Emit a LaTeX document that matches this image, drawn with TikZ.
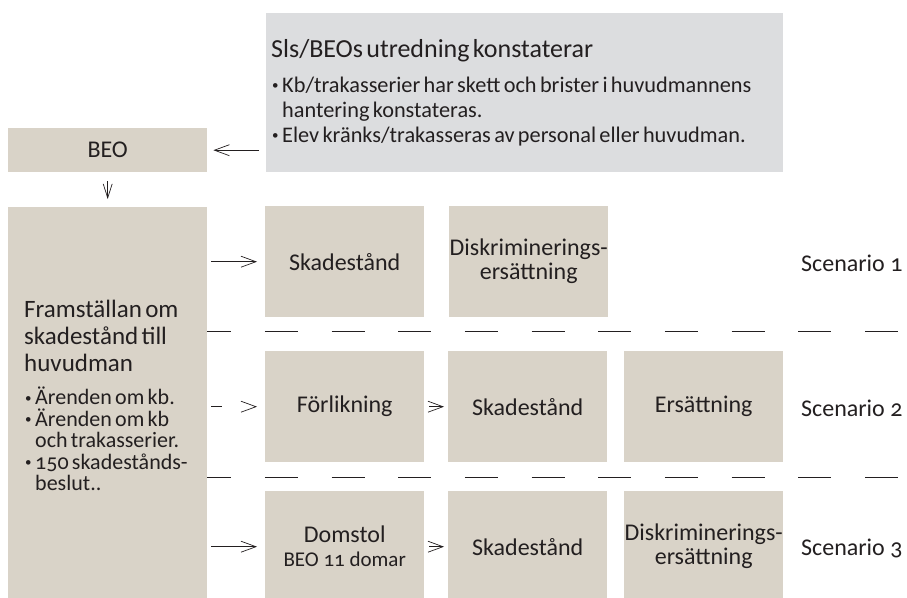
\documentclass[tikz,border=0pt]{standalone}
\usepackage{fontspec}
\setmainfont{Carlito}[Numbers=OldStyle]
\usetikzlibrary{arrows.meta}
\definecolor{beige}{RGB}{217,211,200}
\definecolor{ljusgra}{RGB}{220,221,223}
\definecolor{ink}{RGB}{35,31,32}
\newcommand{\pkt}{\par\hangindent=11pt\hangafter=1\noindent
  \makebox[11pt][l]{\hspace{1pt}\raisebox{2.5pt}{\fontsize{13}{13}\selectfont\textbullet}}}
\tikzset{
  ruta/.style={fill=beige, anchor=north west, minimum width=159pt, minimum height=111pt,
    inner sep=0pt, align=center, font=\fontsize{24}{24}\selectfont},
  pil/.style={-{Straight Barb[length=15pt,width=11pt]}, line width=0.7pt, draw=ink},
  streck/.style={line width=0.8pt, draw=ink, dash pattern=on 33pt off 33.67pt, dash phase=8.7pt},
  every node/.style={text=ink}
}
\begin{document}
\begin{tikzpicture}[x=1pt,y=-1pt]
    \useasboundingbox (0,0) rectangle (907,597);
    % utredning och BEO
    \node[fill=ljusgra, anchor=north west, minimum width=517pt, minimum height=159pt, text width=507pt,
      inner xsep=5pt, inner ysep=0pt, align=left] (sls) at (266,13)
      {{\fontsize{26}{30}\selectfont Sls/BEOs utredning konstaterar\par}\vspace{10pt}%
       {\fontsize{22.3}{25}\selectfont\pkt Kb/trakasserier har skett och brister i huvudmannens\newline hantering konstateras.%
        \pkt Elev kränks/trakasseras av personal eller huvudman.\par}};
    \node[fill=beige, anchor=north west, minimum width=199pt, minimum height=44pt, inner sep=0pt,
      font=\fontsize{24}{24}\selectfont] (beo) at (8,128) {BEO};
    \node[fill=beige, anchor=north west, minimum width=199pt, minimum height=395pt, text width=167pt,
      inner xsep=16pt, inner ysep=0pt, align=left] (fram) at (8,207)
      {{\fontsize{25}{27}\selectfont Framställan om\\skadestånd till\\huvudman\par}\vspace{11.5pt}%
       {\fontsize{22}{21.5}\selectfont\pkt Ärenden om kb.\pkt Ärenden om kb\newline och trakasserier.%
        \pkt 150 skadestånds-\newline beslut..\par}\vspace*{18pt}};
    % scenarier
    \node[ruta] (skad1) at (265,206) {Skadestånd};
    \node[ruta] (disk1) at (449,206) {Diskriminerings-\\ersättning};
    \node[ruta] (forl) at (265,351) {Förlikning};
    \node[ruta] (skad2) at (448,351) {Skadestånd};
    \node[ruta] (ers) at (624,351) {Ersättning};
    \node[ruta] (dom) at (265,491) {Domstol\\{\fontsize{21}{21}\selectfont BEO 11 domar}};
    \node[ruta] (skad3) at (448,491) {Skadestånd};
    \node[ruta] (disk3) at (624,491) {Diskriminerings-\\ersättning};
    \node[anchor=east, font=\fontsize{24}{24}\selectfont] (sc1) at (906,263) {Scenario 1};
    \node[anchor=east, font=\fontsize{24}{24}\selectfont] (sc2) at (906,408) {Scenario 2};
    \node[anchor=east, font=\fontsize{24}{24}\selectfont] (sc3) at (906,548) {Scenario 3};
    \draw[streck] (207,331) -- (907,331);
    \draw[streck] (207,477) -- (907,477);
    % pilar
    \draw[pil, shorten <=7pt, shorten >=6pt] (sls.west |- beo.east) -- (beo.east);
    \draw[pil, -{Straight Barb[length=14pt,width=9pt]}, shorten <=9pt, shorten >=8pt] (beo.south) -- (beo.south |- fram.north);
    \draw[pil, shorten <=4pt, shorten >=8pt] (fram.east |- skad1.west) -- (skad1.west);
    \draw[pil, dash pattern=on 11pt off 40pt, shorten <=4pt, shorten >=8pt] (fram.east |- forl.west) -- (forl.west);
    \draw[pil, shorten <=4pt, shorten >=8pt] (fram.east |- dom.west) -- (dom.west);
    \draw[pil, shorten <=5pt, shorten >=4pt] (forl.east) -- (skad2.west);
    \draw[pil, shorten <=5pt, shorten >=4pt] (dom.east) -- (skad3.west);
\end{tikzpicture}
\end{document}
